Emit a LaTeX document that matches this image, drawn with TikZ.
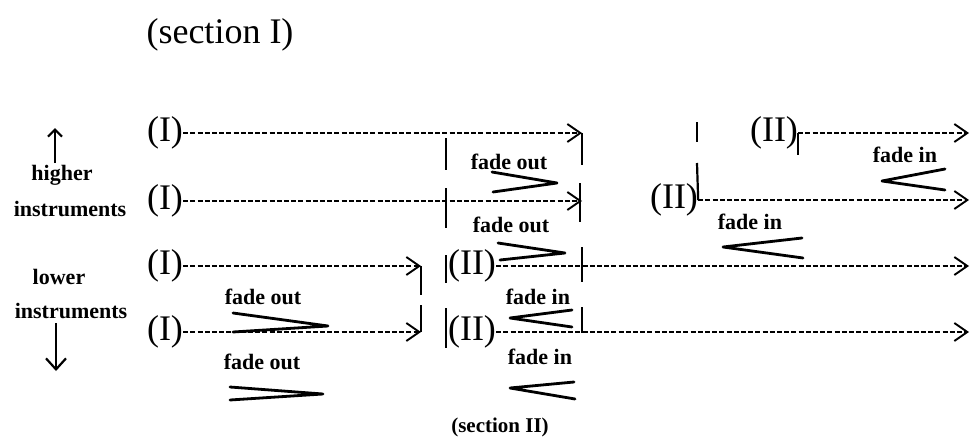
\documentclass[tikz,border=0pt]{standalone}
\usepackage{fontspec}
\setmainfont{Liberation Serif}
\usetikzlibrary{arrows.meta}
\begin{document}
\begin{tikzpicture}[x=1pt,y=-1pt,
  big/.style={font=\fontsize{36}{40}\selectfont, inner sep=0pt},
  small/.style={font=\bfseries\fontsize{22}{26}\selectfont, inner sep=0pt},
  sec2/.style={font=\bfseries\fontsize{21}{25}\selectfont, inner sep=0pt},
  conn/.style={line width=2.1pt, dash pattern=on 5pt off 2.2pt,
    -{Straight Barb[length=13pt,width=18pt,line width=1.9pt]}},
  bar/.style={line width=2.2pt},
  hairpin/.style={line width=2.8pt, line cap=round, line join=round},
  vertarrow/.style={line width=2.2pt}]
\useasboundingbox (0,0) rectangle (972,439);

% titles
\node[big] (secI) at (220,35) {(section I)};
\node[sec2] (secII) at (500,427) {(section II)};

% left labels
\node[small] (higher) at (62,175) {higher};
\node[small] (instrH) at (70,209) {instruments};
\node[small] (lower) at (59,277) {lower};
\node[small] (instrL) at (71,311) {instruments};
\coordinate (upTop) at (55,128);
\coordinate (upBot) at (55,163);
\coordinate (dnTop) at (56,323);
\coordinate (dnBot) at (56,371);
\draw[vertarrow,-{Straight Barb[length=7pt,width=14pt,line width=2.2pt]}] (upBot) -- (upTop);
\draw[vertarrow,-{Straight Barb[length=11pt,width=20pt,line width=2.2pt]}] (dnTop) -- (dnBot);

% section I labels
\node[big] (I1) at (165,133) {(I)};
\node[big] (I2) at (165,201) {(I)};
\node[big] (I3) at (165,266) {(I)};
\node[big] (I4) at (165,332) {(I)};

% section II labels
\node[big] (II1) at (774,133) {(II)};
\node[big] (II2) at (674,200) {(II)};
\node[big] (II3) at (472,266) {(II)};
\node[big] (II4) at (472,332) {(II)};

% end points
\coordinate (e1) at (582,133);
\coordinate (e2) at (582,201);
\coordinate (e3) at (421,266);
\coordinate (e4) at (421,332);
\coordinate (f1) at (969,133);
\coordinate (f2) at (969,200);
\coordinate (f3) at (969,266);
\coordinate (f4) at (969,332);

% dashed connectors
\draw[conn] (I1.east) -- (e1);
\draw[conn] (I2.east) -- (e2);
\draw[conn] (I3.east) -- (e3);
\draw[conn] (I4.east) -- (e4);
\draw[conn] (II1.east) -- (f1);
\draw[conn] (II2.east) -- (f2);
\draw[conn] (II3.east) -- (f3);
\draw[conn] (II4.east) -- (f4);

% vertical bars
\draw[bar] (446,138) -- (446,170);
\draw[bar] (446,188) -- (446,228);
\draw[bar] (e1) -- ++(0,32);
\draw[bar] (580,183) -- (580,222);
\draw[bar] (e3) -- ++(0,29);
\draw[bar] (421,305) -- (e4);
\draw[bar] ([xshift=-1.5pt]II3.west) ++(0,-11) -- ++(0,28);
\draw[bar] ([xshift=-1.5pt]II4.west) ++(0,-24) -- ++(0,40);
\draw[bar] (582,247) -- (582,282);
\draw[bar] (582,307) -- (582,333);
\draw[bar] (697,122) -- (697,142);
\draw[bar] (697,163) -- (II2.east);
\draw[bar] (II1.east) -- ++(0,22);

% hairpins: decrescendo (>)
\draw[hairpin] (492,172) -- (557,183) -- (493,192);
\draw[hairpin] (498,243) -- (565,253) -- (500,260);
\draw[hairpin] (233,313) -- (328,326) -- (233,332);
\draw[hairpin] (230,387) -- (323,394) -- (230,400);
% hairpins: crescendo (<)
\draw[hairpin] (572,310) -- (510,318) -- (572,327);
\draw[hairpin] (574,382) -- (510,388) -- (575,399);
\draw[hairpin] (945,169) -- (882,181) -- (945,190);
\draw[hairpin] (802,238) -- (723,247) -- (803,258);

% fade labels
\node[small] (fo1) at (509,162) {fade out};
\node[small] (fo2) at (511,225) {fade out};
\node[small] (fo3) at (263,297) {fade out};
\node[small] (fo4) at (262,362) {fade out};
\node[small] (fi1) at (538,297) {fade in};
\node[small] (fi2) at (540,357) {fade in};
\node[small] (fi3) at (905,155) {fade in};
\node[small] (fi4) at (750,222) {fade in};
\end{tikzpicture}
\end{document}
